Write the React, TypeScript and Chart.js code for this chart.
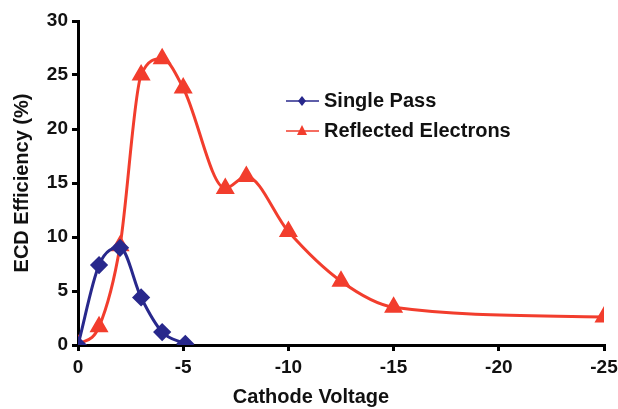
import React, { useEffect, useRef } from "react";
import { Chart, registerables } from "chart.js";
Chart.register(...registerables);

const singlePassX = [0, -1, -2, -3, -4, -5.1];
const singlePassY = [0, 7.4, 9.0, 4.4, 1.2, 0.1];
const reflectedX = [0, -1, -2, -3, -4, -5, -7, -8, -10, -12.5, -15, -25];
const reflectedY = [0, 1.7, 9.2, 25.0, 26.5, 23.8, 14.5, 15.6, 10.5, 5.9, 3.5, 2.6];
const xTicks = [0, -5, -10, -15, -20, -25];
const yTicks = [0, 5, 10, 15, 20, 25, 30];
const seriesLabels = ["Single Pass", "Reflected Electrons"];
const xTitle = "Cathode Voltage";
const yTitle = "ECD Efficiency (%)";

const BLUE = "#28288c";
const RED = "#f23d2d";
const FONT = "'Liberation Sans', Arial, sans-serif";

export default function App() {
  const ref = useRef<HTMLCanvasElement | null>(null);
  useEffect(() => {
    const canvas = ref.current;
    if (!canvas) return;
    const annotate = {
      id: "annotate",
      afterDraw(chart: any) {
        const ctx = chart.ctx;
        ctx.save();
        ctx.fillStyle = "#111";
        ctx.font = `bold 20px ${FONT}`;
        ctx.textAlign = "center";
        ctx.textBaseline = "middle";
        ctx.fillText(xTitle, 311, 397);
        ctx.save();
        ctx.translate(22, (chart.chartArea.top + chart.chartArea.bottom) / 2);
        ctx.rotate(-Math.PI / 2);
        ctx.fillText(yTitle, 0, 0);
        ctx.restore();
        // legend
        const rows = [
          { y: 101, color: BLUE, style: "diamond" },
          { y: 131, color: RED, style: "triangle" },
        ];
        rows.forEach((row, i) => {
          ctx.strokeStyle = row.color;
          ctx.lineWidth = 1.5;
          ctx.beginPath();
          ctx.moveTo(286, row.y);
          ctx.lineTo(319, row.y);
          ctx.stroke();
          ctx.fillStyle = row.color;
          ctx.beginPath();
          if (row.style === "diamond") {
            ctx.moveTo(302, row.y - 5);
            ctx.lineTo(306, row.y);
            ctx.lineTo(302, row.y + 5);
            ctx.lineTo(298, row.y);
          } else {
            ctx.moveTo(302, row.y - 6);
            ctx.lineTo(307, row.y + 4);
            ctx.lineTo(297, row.y + 4);
          }
          ctx.closePath();
          ctx.fill();
          ctx.fillStyle = "#111";
          ctx.textAlign = "left";
          ctx.fillText(seriesLabels[i], 324, row.y);
        });
        ctx.restore();
      },
    };
    const chart = new Chart(canvas, {
      type: "line",
      data: {
        datasets: [
          {
            label: seriesLabels[0],
            data: singlePassX.map((x, i) => ({ x, y: singlePassY[i] })),
            borderColor: BLUE,
            backgroundColor: BLUE,
            borderWidth: 3,
            pointStyle: "rectRot",
            pointRadius: 7,
            cubicInterpolationMode: "monotone",
          },
          {
            label: seriesLabels[1],
            data: reflectedX.map((x, i) => ({ x, y: reflectedY[i] })),
            borderColor: RED,
            backgroundColor: RED,
            borderWidth: 3,
            pointStyle: "triangle",
            pointRadius: 8,
            cubicInterpolationMode: "monotone",
          },
        ],
      },
      options: {
        animation: false,
        responsive: true,
        maintainAspectRatio: false,
        layout: { padding: { left: 0, top: 21, right: 14, bottom: 0 } },
        plugins: { legend: { display: false }, tooltip: { enabled: false } },
        scales: {
          x: {
            type: "linear",
            min: -25,
            max: 0,
            reverse: true,
            afterBuildTicks: (s: any) => { s.ticks = xTicks.map((v) => ({ value: v })); },
            afterFit: (s: any) => { s.height = 64; s.paddingRight = 0; s.paddingLeft = 0; },
            border: { color: "#000", width: 3 },
            grid: { drawOnChartArea: false, drawTicks: true, tickLength: 6, color: "#000", lineWidth: 3 },
            ticks: {
              color: "#111",
              font: { family: FONT, size: 19, weight: "bold" },
              padding: 5,
              maxRotation: 0,
              callback: (v: any) => String(v),
            },
          },
          y: {
            min: 0,
            max: 30,
            afterBuildTicks: (s: any) => { s.ticks = yTicks.map((v) => ({ value: v })); },
            afterFit: (s: any) => { s.width = 78; s.paddingTop = 0; s.paddingBottom = 0; },
            border: { color: "#000", width: 3 },
            grid: { drawOnChartArea: false, drawTicks: true, tickLength: 6, color: "#000", lineWidth: 3 },
            ticks: {
              color: "#111",
              font: { family: FONT, size: 19, weight: "bold" },
              padding: 4,
              callback: (v: any) => String(v),
            },
          },
        },
      },
      plugins: [annotate],
    } as any);
    return () => chart.destroy();
  }, []);
  return (
    <div style={{ position: "fixed", left: 0, top: 0, width: 618, height: 409, background: "#fff" }}>
      <canvas ref={ref} />
    </div>
  );
}
